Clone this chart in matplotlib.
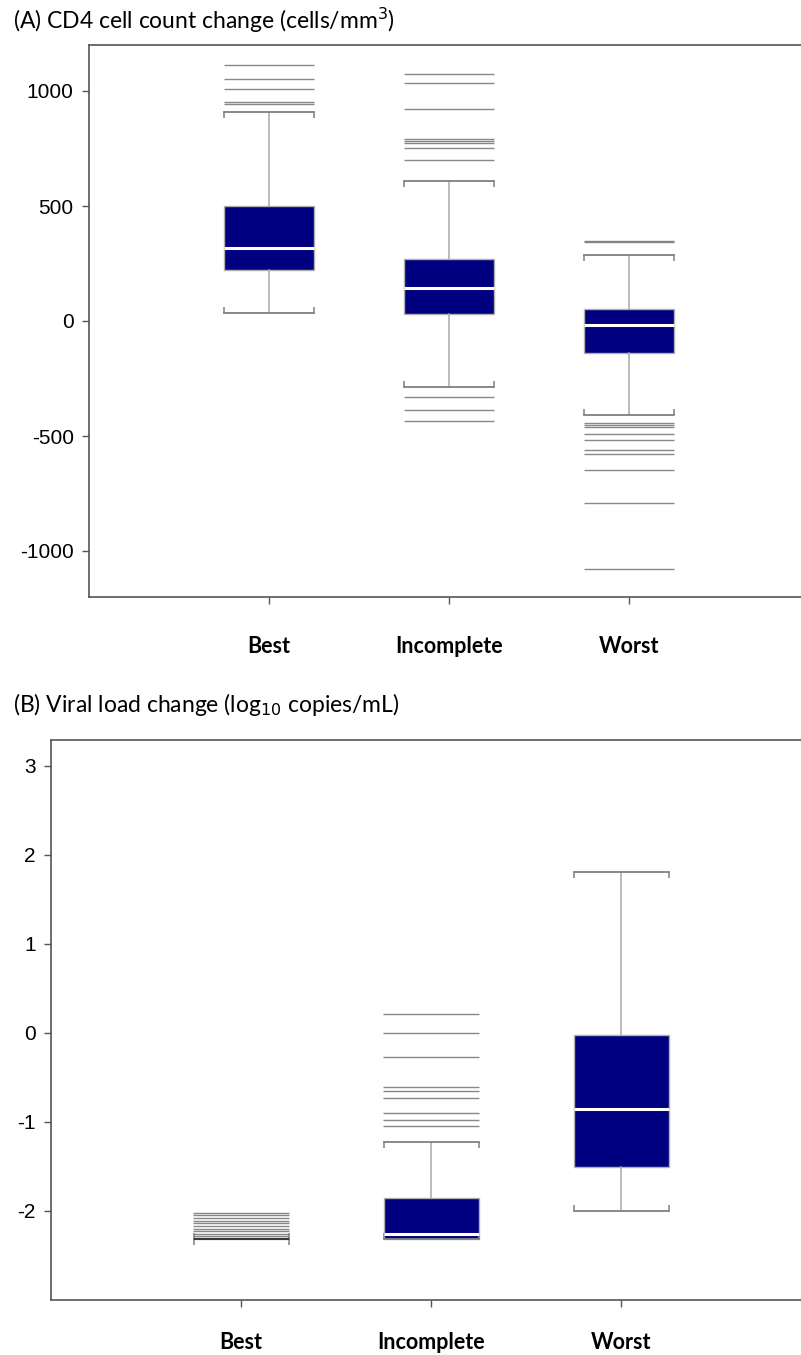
import matplotlib.pyplot as plt

plt.rcParams["axes.unicode_minus"] = False

groups = ["Best", "Incomplete", "Worst"]

# (A) CD4 cell count change, cells/mm3
cd4_med = [319, 142, -19]
cd4_q1 = [222, 30, -140]
cd4_q3 = [501, 268, 51]
cd4_lo = [33, -288, -409]
cd4_hi = [910, 610, 287]
cd4_out = [
    [1113, 1051, 1009, 954, 944],
    [1073, 1034, 920, 790, 783, 773, 751, 700, -329, -387, -436],
    [349, 342, -445, -454, -460, -493, -517, -561, -580, -648, -790, -1078],
]

# (B) viral load change, log10 copies/mL
vl_med = [-2.32, -2.26, -0.85]
vl_q1 = [-2.32, -2.31, -1.51]
vl_q3 = [-2.32, -1.85, -0.02]
vl_lo = [-2.32, -2.31, -2.0]
vl_hi = [-2.32, -1.23, 1.81]
vl_out = [
    [-2.02, -2.05, -2.08, -2.11, -2.14, -2.17, -2.2, -2.23, -2.26, -2.28, -2.3],
    [0.21, 0.0, -0.27, -0.61, -0.65, -0.73, -0.9, -0.98, -1.04],
    [],
]

DPI = 100
fig = plt.figure(figsize=(8.01, 13.55), dpi=DPI)

# axes run past the right edge of the figure, like the cropped original
ax1 = fig.add_axes([89 / 801, 1 - 597 / 1355, 720 / 801, 552 / 1355])
ax2 = fig.add_axes([51 / 801, 1 - 1300 / 1355, 760 / 801, 560 / 1355])


def draw_panel(ax, med, q1, q3, lo, hi, out, ylim, yticks, pad):
    ax.set_xlim(0, 4)
    ax.set_ylim(*ylim)
    pos = ax.get_position()
    px_x = pos.width * fig.get_figwidth() * DPI / 4          # px per x unit
    px_y = pos.height * fig.get_figheight() * DPI / (ylim[1] - ylim[0])
    ms = 0.5 * px_x * 72 / DPI

    stats = []
    for i in range(3):
        stats.append(dict(med=med[i], q1=q1[i], q3=q3[i], whislo=lo[i],
                          whishi=hi[i], fliers=out[i], label=groups[i]))

    bp = ax.bxp(stats, positions=[1, 2, 3], widths=0.5, capwidths=0.5,
                patch_artist=True,
                boxprops=dict(facecolor="#000080", edgecolor="#b0b0b0", linewidth=1),
                medianprops=dict(color="white", linewidth=2.2),
                whiskerprops=dict(color="#a8a8a8", linewidth=1.1),
                capprops=dict(color="#808080", linewidth=1.3),
                flierprops=dict(marker="_", markersize=ms, markeredgewidth=1.0,
                                markeredgecolor="#6a6a6a", alpha=0.8))
    if med[0] == q1[0] == q3[0]:
        bp["medians"][0].set_color("#333333")
        bp["medians"][0].set_linewidth(1.3)

    # little end ticks on the caps, pointing toward the box
    d = 6 / px_y
    for i, p in enumerate([1, 2, 3]):
        ax.vlines([p - 0.25, p + 0.25], hi[i], hi[i] - d, color="#808080", lw=1.1)
        ax.vlines([p - 0.25, p + 0.25], lo[i], lo[i] + d, color="#808080", lw=1.1)

    ax.set_yticks(yticks)
    ax.set_xticks([1, 2, 3])
    ax.set_xticklabels(groups, fontfamily="Lato", fontweight="bold", fontsize=15.5)
    for lab in ax.get_yticklabels():
        lab.set_fontfamily("Liberation Sans")
        lab.set_fontsize(15)
    ax.tick_params(axis="x", length=5, width=1, color="#555555", pad=pad)
    ax.tick_params(axis="y", length=5, width=1, color="#555555", pad=6)
    for s in ["left", "bottom", "top"]:
        ax.spines[s].set_color("#555555")
        ax.spines[s].set_linewidth(1.2)


draw_panel(ax1, cd4_med, cd4_q1, cd4_q3, cd4_lo, cd4_hi, cd4_out,
           (-1200, 1200), [-1000, -500, 0, 500, 1000], 23)
draw_panel(ax2, vl_med, vl_q1, vl_q3, vl_lo, vl_hi, vl_out,
           (-3, 3.29), [-2, -1, 0, 1, 2, 3], 18)

fig.text(13 / 801, 1 - 20 / 1355, "(A) CD4 cell count change (cells/mm$^3$)",
         fontfamily="Lato", fontsize=16.5, va="center", ha="left")
fig.text(13 / 801, 1 - 705 / 1355, "(B) Viral load change (log$_{10}$ copies/mL)",
         fontfamily="Lato", fontsize=16.5, va="center", ha="left")

plt.savefig("out.png", dpi=DPI)
